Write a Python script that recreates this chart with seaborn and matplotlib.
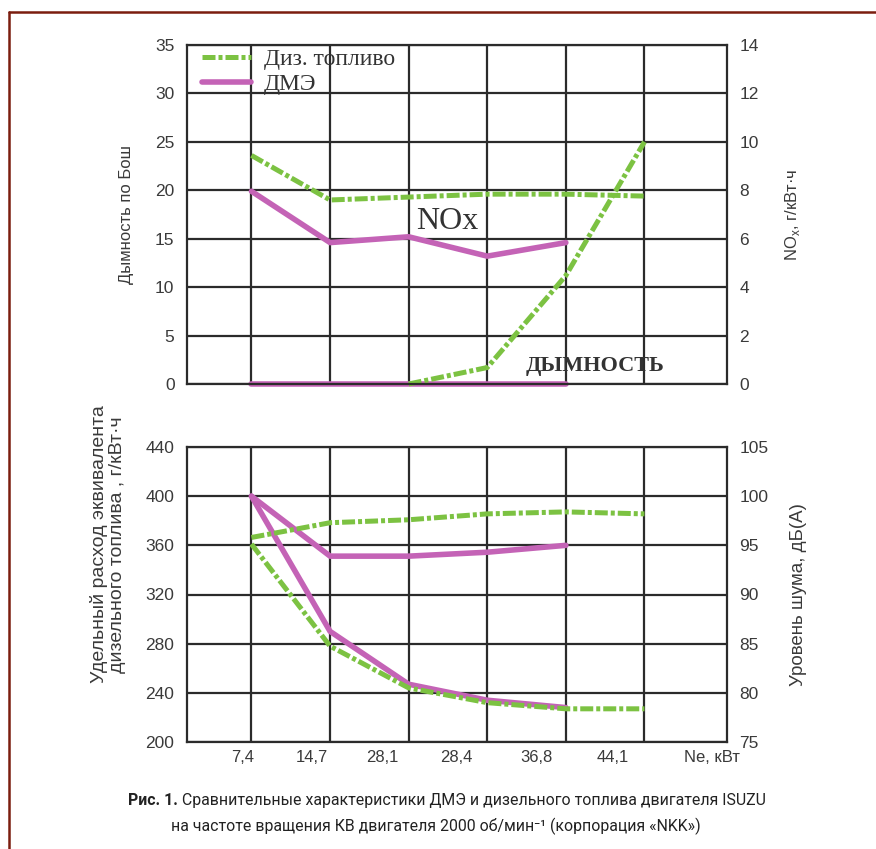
import numpy as np
import pandas as pd
import matplotlib
matplotlib.use("Agg")
import matplotlib.pyplot as plt
from matplotlib.lines import Line2D
import seaborn as sns

# ---------------- data ----------------
ne_labels = ["7,4", "14,7", "28,1", "28,4", "36,8", "44,1"]
x_unit_label = "Ne, кВт"

# upper panel, NOx (right axis, g/kWh)
nox_diesel = [9.44, 7.60, 7.72, 7.84, 7.84, 7.76]
nox_dme = [7.96, 5.84, 6.08, 5.28, 5.84]
# upper panel, smoke by Bosch (left axis) – diesel starts at 28,1
smoke_diesel = [0.0, 1.7, 11.2, 25.0]
smoke_dme = [0.0, 0.0, 0.0, 0.0, 0.0]
# lower panel, specific consumption (left axis, g/kWh)
sfc_diesel = [361, 278, 244, 232, 227, 227]
sfc_dme = [400, 290, 247, 234, 228]
# lower panel, noise level (right axis, dB(A))
noise_diesel = [95.8, 97.3, 97.6, 98.2, 98.4, 98.2]
noise_dme = [100.0, 93.9, 93.9, 94.3, 95.0]

legend_labels = ["Диз. топливо", "ДМЭ"]

# ---------------- style ----------------
sns.set_theme(style="white")
plt.rcParams["font.family"] = ["Liberation Sans", "DejaVu Sans"]
cap_family = ["Roboto", "DejaVu Sans"]
serif = ["Liberation Serif", "DejaVu Serif"]

GREEN = "#7cc242"
PINK = "#c463b6"
GRID = "#2b2b2b"
TXT = "#3a3a3a"
GREEN_LS = (0, (2.6, 0.6, 0.8, 0.6))

W, H = 876, 849
fig = plt.figure(figsize=(W / 100, H / 100), dpi=100)
fig.patch.set_facecolor("white")


def rect(l, t, r, b):
    return [l / W, 1 - b / H, (r - l) / W, (b - t) / H]


ax1 = fig.add_axes(rect(187, 45, 727, 384))
ax2 = fig.add_axes(rect(187, 447, 727, 742))
ax1r = ax1.twinx()
ax2r = ax2.twinx()

pos = np.arange(1, len(ne_labels) + 1)


def series(values, start=0):
    return pd.DataFrame({"pos": pos[start:start + len(values)], "val": values})


def draw(ax, values, color, start=0, green=False):
    kw = dict(color=color, linewidth=3.6 if green else 4.0, legend=False,
              estimator=None, clip_on=False)
    if green:
        kw["linestyle"] = GREEN_LS
    sns.lineplot(data=series(values, start), x="pos", y="val", ax=ax, **kw)


# upper panel
draw(ax1, smoke_dme, PINK)
draw(ax1, smoke_diesel, GREEN, start=2, green=True)
draw(ax1r, nox_dme, PINK)
draw(ax1r, nox_diesel, GREEN, green=True)
# lower panel
draw(ax2, sfc_dme, PINK)
draw(ax2, sfc_diesel, GREEN, green=True)
draw(ax2r, noise_dme, PINK)
draw(ax2r, noise_diesel, GREEN, green=True)

# axes formatting
label_pos = [0.89, 1.77, 2.67, 3.60, 4.63, 5.60, 6.86]
for ax, axr, (lo, hi, st), (rlo, rhi, rst) in [
        (ax1, ax1r, (0, 35, 5), (0, 14, 2)),
        (ax2, ax2r, (200, 440, 40), (75, 105, 5))]:
    ax.set_xlim(0.18, 7.05)
    ax.set_ylim(lo, hi)
    axr.set_ylim(rlo, rhi)
    ax.set_yticks(np.arange(lo, hi + 1, st))
    axr.set_yticks(np.arange(rlo, rhi + 1, rst))
    ax.set_xticks(pos, labels=[""] * len(pos))
    ax.grid(True, color=GRID, linewidth=1.6)
    ax.set_xlabel("")
    ax.set_ylabel("")
    axr.set_ylabel("")
    axr.grid(False)
    ax.tick_params(axis="both", which="both", length=0)
    ax.tick_params(axis="y", labelsize=12.5, labelcolor=TXT, pad=9)
    axr.tick_params(axis="y", length=0, labelsize=12.5, labelcolor=TXT, pad=9)
    for s in ax.spines.values():
        s.set_visible(True)
        s.set_color(GRID)
        s.set_linewidth(1.6)
    for s in axr.spines.values():
        s.set_visible(False)

ax2.set_xticks(label_pos, labels=ne_labels + [x_unit_label], minor=True)
ax2.tick_params(axis="x", which="minor", length=0, labelsize=12,
                labelcolor=TXT, pad=6)

# axis titles
ax1.set_ylabel("Дымность по Бош", fontsize=12, color=TXT)
ax1.yaxis.set_label_coords(-0.098, 0.5)
ax1r.set_ylabel("NO$_\\mathregular{x}$, г/кВт·ч", fontsize=12, color=TXT)
ax1r.yaxis.set_label_coords(1.104, 0.5)
ax2.set_ylabel("Удельный расход эквивалента\nдизельного топлива , г/кВт·ч",
               fontsize=14, color=TXT, linespacing=1.1)
ax2.yaxis.set_label_coords(-0.113, 0.67)
ax2r.set_ylabel("Уровень шума, дБ(А)", fontsize=13.5, color=TXT)
ax2r.yaxis.set_label_coords(1.117, 0.5)

# in-plot annotations
ax1.text(3.49, 16.8, "NOx", family=serif, fontsize=23, color="#333333",
         ha="center", va="center")
ax1.text(5.37, 1.9, "ДЫМНОСТЬ", family=serif, fontsize=16, fontweight="bold",
         color="#333333", ha="center", va="center")

# legend
handles = [Line2D([], [], color=GREEN, linewidth=3.6, linestyle=GREEN_LS),
           Line2D([], [], color=PINK, linewidth=4.0)]
ax1r.legend(handles, legend_labels, loc="upper left", bbox_to_anchor=(0.022, 1.0),
            frameon=False, prop=dict(family=serif, size=17), handlelength=2.05,
            handletextpad=0.55, labelspacing=0.15, borderaxespad=0.15,
            borderpad=0.0, labelcolor="#333333")

# caption
CAP_FS = 11.4
t1 = fig.text(128 / W, 1 - 808 / H, "Рис. 1.", family=cap_family,
              fontweight="bold", fontsize=CAP_FS,
              color="#222222", ha="left", va="bottom")
ax1.annotate(" Сравнительные характеристики ДМЭ и дизельного топлива двигателя ISUZU",
             xy=(1, 0), xycoords=t1, ha="left", va="bottom", family=cap_family,
             fontsize=CAP_FS, color="#222222", annotation_clip=False)
fig.text(436 / W, 1 - 826 / H,
         "на частоте вращения КВ двигателя 2000 об/мин⁻¹ (корпорация «NKK»)",
         family=cap_family, fontsize=CAP_FS,
         color="#222222", ha="center", va="center")

# page frame (top and left rules)
FRAME = "#7b1d0f"
fig.add_artist(Line2D([9 / W, 1.0], [1 - 12 / H, 1 - 12 / H], color=FRAME, lw=1.8))
fig.add_artist(Line2D([9 / W, 9 / W], [0.0, 1 - 12 / H], color=FRAME, lw=1.8))

fig.savefig("out.png", dpi=100, facecolor="white")
